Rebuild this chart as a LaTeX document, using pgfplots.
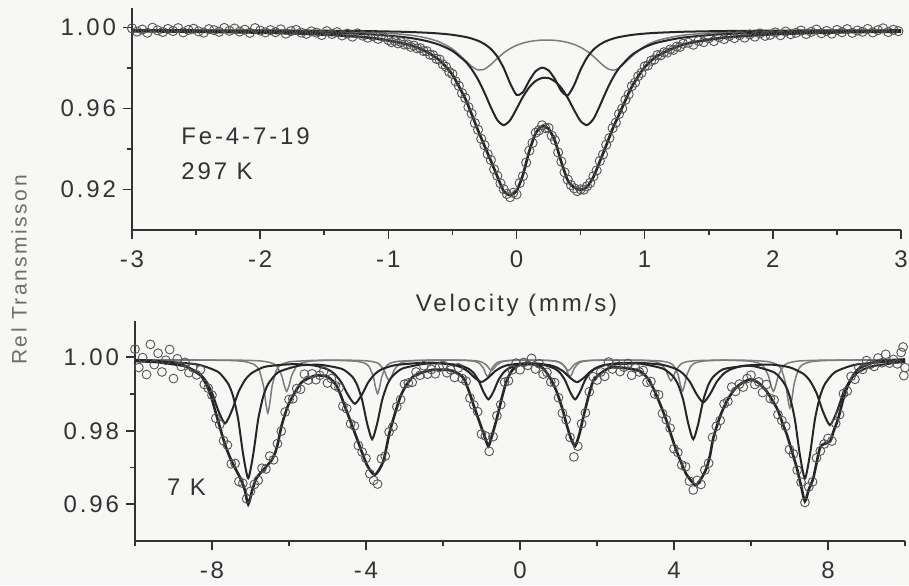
\documentclass[border=0pt]{standalone}
\usepackage{fontspec}
\setmainfont{Liberation Sans}[LetterSpace=12]
\usepackage{pgfplots}
\pgfplotsset{compat=1.18}
\definecolor{ink}{HTML}{333333}
\definecolor{fitdark}{HTML}{262626}
\definecolor{fitgray}{HTML}{7C7C7C}
\definecolor{circ}{HTML}{555555}
\definecolor{labgray}{HTML}{6E6E6E}
\definecolor{paper}{HTML}{F7F7F5}
\pgfplotsset{
  mystyle/.style={
    scale only axis,
    axis lines=left,
    axis line style={-, line width=0.8pt, draw=ink},
    tick align=outside,
    major tick length=4.5pt,
    minor tick length=2.5pt,
    every tick/.style={line width=0.8pt, draw=ink},
    every minor tick/.style={line width=0.8pt, draw=ink},
    tick label style={font=\fontsize{12}{14}\selectfont, text=ink},
    xticklabel style={yshift=-2.5pt},
    /pgf/number format/assume math mode=true,
    clip=false,
  },
  circs/.style={only marks, mark=o, mark size=2.3pt, mark options={line width=0.45pt, draw=circ}},
  sumfit/.style={no marks, smooth, tension=0.4, line width=1.3pt, draw=fitdark},
  darkfit/.style={no marks, smooth, tension=0.4, line width=1.0pt, draw=fitdark},
  grayfit/.style={no marks, smooth, tension=0.4, line width=0.75pt, draw=fitgray},
}
\begin{document}
\begin{tikzpicture}
\path[use as bounding box, fill=paper] (0pt,0pt) rectangle (454.5pt,292.5pt);
\node[rotate=90, text=labgray, font=\fontsize{10.5}{12}\selectfont] at (9.5pt,157.5pt) {Rel Transmisson};

% ---------------- top panel: 297 K ----------------
\begin{axis}[mystyle,
  at={(66pt,177.5pt)}, anchor=south west,
  width=384.5pt, height=110.85pt,
  xmin=-3, xmax=3, ymin=0.90, ymax=1.0095,
  xtick={-3,-2,-1,0,1,2,3},
  minor xtick={-2.5,-1.5,-0.5,0.5,1.5,2.5},
  ytick={0.92,0.96,1.00},
  minor ytick={0.94,0.98},
  yticklabel style={/pgf/number format/.cd, fixed, fixed zerofill, precision=2},
  xlabel={Velocity (mm/s)},
  xlabel style={at={(axis description cs:0.5,-0.34)}, anchor=center, font=\fontsize{12}{14}\selectfont, text=ink},
]
\addplot[circs] table {
x y
-3.00 0.9996
-2.96 0.9980
-2.92 0.9990
-2.88 0.9974
-2.84 0.9999
-2.80 0.9986
-2.76 0.9978
-2.72 0.9993
-2.68 0.9983
-2.64 0.9997
-2.60 0.9976
-2.56 0.9988
-2.52 0.9994
-2.48 0.9981
-2.44 0.9975
-2.40 0.9992
-2.36 0.9987
-2.32 0.9979
-2.28 0.9998
-2.24 0.9984
-2.20 0.9995
-2.16 0.9980
-2.12 0.9989
-2.08 0.9974
-2.04 0.9997
-2.00 0.9985
-1.96 0.9976
-1.92 0.9987
-1.88 0.9977
-1.84 0.9991
-1.80 0.9970
-1.76 0.9982
-1.72 0.9988
-1.68 0.9975
-1.64 0.9969
-1.60 0.9981
-1.56 0.9975
-1.52 0.9963
-1.48 0.9982
-1.44 0.9968
-1.40 0.9977
-1.36 0.9961
-1.32 0.9970
-1.28 0.9955
-1.24 0.9971
-1.20 0.9960
-1.16 0.9950
-1.12 0.9958
-1.08 0.9944
-1.04 0.9955
-1.000 0.9938
-0.975 0.9928
-0.950 0.9934
-0.925 0.9922
-0.900 0.9928
-0.875 0.9916
-0.850 0.9917
-0.825 0.9905
-0.800 0.9911
-0.775 0.9897
-0.750 0.9898
-0.725 0.9884
-0.700 0.9883
-0.675 0.9866
-0.650 0.9863
-0.625 0.9845
-0.600 0.9842
-0.575 0.9818
-0.550 0.9806
-0.525 0.9781
-0.500 0.9771
-0.475 0.9734
-0.450 0.9712
-0.425 0.9676
-0.400 0.9652
-0.375 0.9607
-0.350 0.9575
-0.325 0.9528
-0.300 0.9495
-0.275 0.9450
-0.250 0.9419
-0.225 0.9375
-0.200 0.9346
-0.175 0.9300
-0.150 0.9268
-0.125 0.9231
-0.100 0.9202
-0.075 0.9178
-0.050 0.9162
-0.025 0.9184
0.000 0.9176
0.025 0.9232
0.050 0.9266
0.075 0.9333
0.100 0.9392
0.125 0.9430
0.150 0.9481
0.175 0.9492
0.200 0.9517
0.225 0.9503
0.250 0.9504
0.275 0.9466
0.300 0.9443
0.325 0.9383
0.350 0.9338
0.375 0.9285
0.400 0.9249
0.425 0.9222
0.450 0.9206
0.475 0.9192
0.500 0.9201
0.525 0.9199
0.550 0.9216
0.575 0.9233
0.600 0.9265
0.625 0.9294
0.650 0.9341
0.675 0.9373
0.700 0.9421
0.725 0.9454
0.750 0.9503
0.775 0.9530
0.800 0.9573
0.825 0.9600
0.850 0.9643
0.875 0.9670
0.900 0.9711
0.925 0.9728
0.950 0.9760
0.975 0.9776
1.000 0.9808
1.025 0.9813
1.050 0.9836
1.075 0.9842
1.100 0.9864
1.125 0.9863
1.150 0.9878
1.175 0.9876
1.200 0.9892
1.225 0.9890
1.250 0.9906
1.275 0.9904
1.300 0.9920
1.34 0.9925
1.38 0.9915
1.42 0.9934
1.46 0.9928
1.50 0.9947
1.54 0.9933
1.58 0.9952
1.62 0.9943
1.66 0.9958
1.70 0.9948
1.74 0.9962
1.78 0.9950
1.82 0.9966
1.86 0.9955
1.90 0.9971
1.94 0.9959
1.98 0.9964
2.02 0.9976
2.06 0.9962
2.10 0.9980
2.14 0.9967
2.18 0.9974
2.22 0.9985
2.26 0.9968
2.30 0.9979
2.34 0.9990
2.38 0.9972
2.42 0.9983
2.46 0.9970
2.50 0.9988
2.54 0.9977
2.58 0.9992
2.62 0.9974
2.66 0.9985
2.70 0.9979
2.74 0.9993
2.78 0.9976
2.82 0.9987
2.86 0.9996
2.90 0.9978
2.94 0.9989
2.98 0.9982
};
% doublet C (light)
\addplot[grayfit] table {
x y
-3 0.99864
-2.5 0.99857
-2 0.99844
-1.6 0.99823
-1.3 0.99790
-1.1 0.99749
-0.9 0.99669
-0.8 0.99597
-0.7 0.99482
-0.6 0.99287
-0.5 0.98942
-0.4 0.98381
-0.35 0.98082
-0.3 0.97904
-0.25 0.97944
-0.2 0.98173
-0.15 0.98471
-0.1 0.98745
-0.05 0.98961
0 0.99120
0.05 0.99232
0.1 0.99307
0.15 0.99355
0.2 0.99379
0.25 0.99383
0.3 0.99366
0.35 0.99327
0.4 0.99263
0.45 0.99165
0.5 0.99024
0.55 0.98830
0.6 0.98575
0.65 0.98279
0.7 0.98010
0.75 0.97891
0.8 0.97997
0.9 0.98580
1.0 0.99074
1.1 0.99362
1.3 0.99623
1.6 0.99757
2 0.99817
2.5 0.99845
3 0.99858
};
% doublet B
\addplot[darkfit] table {
x y
-3 0.99870
-2.5 0.99866
-2 0.99859
-1.6 0.99849
-1.3 0.99834
-1.1 0.99818
-0.9 0.99792
-0.8 0.99772
-0.7 0.99744
-0.6 0.99704
-0.5 0.99641
-0.4 0.99537
-0.35 0.99457
-0.3 0.99346
-0.25 0.99184
-0.2 0.98942
-0.15 0.98570
-0.1 0.98002
-0.05 0.97253
0 0.96676
0.05 0.96804
0.1 0.97383
0.15 0.97848
0.2 0.98018
0.25 0.97884
0.3 0.97452
0.35 0.96863
0.4 0.96650
0.45 0.97162
0.5 0.97919
0.55 0.98513
0.6 0.98905
0.65 0.99160
0.7 0.99329
0.75 0.99446
0.8 0.99529
0.9 0.99636
1.0 0.99701
1.1 0.99742
1.3 0.99791
1.6 0.99826
2 0.99848
2.5 0.99861
3 0.99867
};
% doublet A
\addplot[darkfit] table {
x y
-3 0.99846
-2.5 0.99831
-2 0.99806
-1.6 0.99767
-1.3 0.99712
-1.1 0.99649
-0.9 0.99541
-0.8 0.99456
-0.7 0.99332
-0.6 0.99145
-0.5 0.98845
-0.4 0.98333
-0.35 0.97944
-0.3 0.97433
-0.25 0.96787
-0.2 0.96060
-0.15 0.95432
-0.1 0.95178
-0.05 0.95421
0 0.95980
0.05 0.96577
0.1 0.97054
0.15 0.97365
0.2 0.97512
0.25 0.97505
0.3 0.97341
0.35 0.97014
0.4 0.96522
0.45 0.95918
0.5 0.95378
0.55 0.95181
0.6 0.95482
0.65 0.96132
0.7 0.96857
0.75 0.97490
0.8 0.97989
0.9 0.98649
1.0 0.99028
1.1 0.99258
1.3 0.99506
1.6 0.99670
2 0.99760
2.5 0.99809
3 0.99833
};
% total fit
\addplot[sumfit] table {
x y
-3 0.9982
-2.5 0.9979
-2 0.9975
-1.6 0.9968
-1.3 0.9958
-1.1 0.9946
-0.9 0.9924
-0.8 0.9907
-0.7 0.9880
-0.6 0.9838
-0.5 0.9767
-0.4 0.9649
-0.35 0.9572
-0.3 0.9492
-0.25 0.9416
-0.2 0.9342
-0.15 0.9265
-0.1 0.9192
-0.05 0.9172
0 0.9192
0.05 0.9272
0.1 0.9390
0.15 0.9478
0.2 0.9513
0.25 0.9500
0.3 0.9440
0.35 0.9335
0.4 0.9245
0.45 0.9210
0.5 0.9198
0.55 0.9212
0.6 0.9262
0.65 0.9338
0.7 0.9418
0.75 0.9500
0.8 0.9570
0.9 0.9708
1.0 0.9804
1.1 0.9860
1.3 0.9916
1.6 0.9949
2 0.9967
2.5 0.9976
3 0.9980
};
\node[anchor=west, text=ink, font=\fontsize{12}{14}\selectfont] at (axis cs:-2.67,0.9464) {Fe-4-7-19};
\node[anchor=west, text=ink, font=\fontsize{12}{14}\selectfont] at (axis cs:-2.67,0.9291) {297 K};
\end{axis}

% ---------------- bottom panel: 7 K ----------------
\begin{axis}[mystyle,
  at={(67.5pt,22pt)}, anchor=south west,
  width=385pt, height=110.25pt,
  xmin=-10, xmax=10, ymin=0.95, ymax=1.01,
  xtick={-8,-4,0,4,8},
  minor xtick={-10,-6,-2,2,6,10},
  ytick={0.96,0.98,1.00},
  minor ytick={0.97,0.99},
  yticklabel style={/pgf/number format/.cd, fixed, fixed zerofill, precision=2},
]
\addplot[circs, mark size=2.2pt] table {
x y
-10.0 1.0022
-9.9 0.9972
-9.8 0.9999
-9.7 0.9953
-9.6 1.0035
-9.5 0.9980
-9.4 1.0011
-9.3 0.9960
-9.2 0.9992
-9.1 1.0021
-9.0 0.9942
-8.9 0.9996
-8.8 0.9975
-8.7 0.9986
-8.6 0.9958
-8.5 0.9972
-8.4 0.9952
-8.3 0.9966
-8.2 0.9926
-8.1 0.9916
-8.0 0.9897
-7.9 0.9834
-7.8 0.9817
-7.7 0.9773
-7.6 0.9761
-7.5 0.9710
-7.4 0.9711
-7.3 0.9662
-7.2 0.9657
-7.1 0.9615
-7.0 0.9635
-6.9 0.9654
-6.8 0.9665
-6.7 0.9698
-6.6 0.9696
-6.5 0.9731
-6.4 0.9721
-6.3 0.9765
-6.2 0.9799
-6.1 0.9851
-6.0 0.9885
-5.9 0.9887
-5.8 0.9915
-5.7 0.9913
-5.6 0.9954
-5.5 0.9938
-5.4 0.9955
-5.3 0.9939
-5.2 0.9951
-5.1 0.9962
-5.0 0.9930
-4.9 0.9942
-4.8 0.9923
-4.7 0.9917
-4.6 0.9867
-4.5 0.9860
-4.4 0.9819
-4.3 0.9813
-4.2 0.9760
-4.1 0.9742
-4.0 0.9725
-3.9 0.9683
-3.8 0.9665
-3.7 0.9655
-3.6 0.9724
-3.5 0.9731
-3.4 0.9797
-3.3 0.9811
-3.2 0.9865
-3.1 0.9885
-3.0 0.9927
-2.9 0.9930
-2.8 0.9932
-2.7 0.9960
-2.6 0.9951
-2.5 0.9977
-2.4 0.9954
-2.3 0.9967
-2.2 0.9955
-2.1 0.9972
-2.0 0.9978
-1.9 0.9958
-1.8 0.9966
-1.7 0.9945
-1.6 0.9971
-1.5 0.9942
-1.4 0.9935
-1.3 0.9889
-1.2 0.9870
-1.1 0.9852
-1.0 0.9791
-0.9 0.9786
-0.8 0.9744
-0.7 0.9784
-0.6 0.9841
-0.5 0.9871
-0.4 0.9932
-0.3 0.9936
-0.2 0.9966
-0.1 0.9984
0.0 0.9966
0.1 0.9986
0.2 0.9978
0.3 0.9997
0.4 0.9968
0.5 0.9982
0.6 0.9954
0.7 0.9959
0.8 0.9933
0.9 0.9931
1.0 0.9890
1.1 0.9848
1.2 0.9830
1.3 0.9782
1.4 0.9729
1.5 0.9758
1.6 0.9819
1.7 0.9849
1.8 0.9906
1.9 0.9947
2.0 0.9938
2.1 0.9960
2.2 0.9948
2.3 0.9987
2.4 0.9968
2.5 0.9981
2.6 0.9961
2.7 0.9973
2.8 0.9983
2.9 0.9951
3.0 0.9971
3.1 0.9960
3.2 0.9964
3.3 0.9932
3.4 0.9934
3.5 0.9900
3.6 0.9898
3.7 0.9847
3.8 0.9830
3.9 0.9807
4.0 0.9751
4.1 0.9741
4.2 0.9707
4.3 0.9702
4.4 0.9663
4.5 0.9639
4.6 0.9665
4.7 0.9654
4.8 0.9693
4.9 0.9712
5.0 0.9782
5.1 0.9812
5.2 0.9828
5.3 0.9873
5.4 0.9880
5.5 0.9919
5.6 0.9907
5.7 0.9927
5.8 0.9919
5.9 0.9942
6.0 0.9951
6.1 0.9926
6.2 0.9933
6.3 0.9904
6.4 0.9926
6.5 0.9888
6.6 0.9884
6.7 0.9844
6.8 0.9828
6.9 0.9812
7.0 0.9749
7.1 0.9737
7.2 0.9693
7.3 0.9660
7.4 0.9605
7.5 0.9647
7.6 0.9661
7.7 0.9726
7.8 0.9745
7.9 0.9764
8.0 0.9779
8.1 0.9772
8.2 0.9820
8.3 0.9844
8.4 0.9901
8.5 0.9908
8.6 0.9948
8.7 0.9940
8.8 0.9972
8.9 0.9967
9.0 0.9991
9.1 0.9981
9.2 0.9975
9.3 0.9998
9.4 0.9985
9.5 1.0008
9.6 0.9984
9.7 0.9994
9.8 0.9982
9.9 1.0013
10.0 0.9972
9.95 1.0028
9.97 0.9950
};
% S4 (light)
\addplot[grayfit] coordinates {
(-10,0.99930) (-7.36,0.99921) (-6.71,0.99897) (-6.45,0.99844) (-6.32,0.99758) (-6.19,0.99500) (-6.125,0.99242) (-6.06,0.99070) (-5.995,0.99242) (-5.93,0.99500) (-5.80,0.99758) (-5.67,0.99844) (-5.41,0.99897) (-4.70,0.99924) (-4.05,0.99908) (-3.79,0.99873) (-3.66,0.99816) (-3.53,0.99645) (-3.465,0.99474) (-3.40,0.99360) (-3.335,0.99474) (-3.27,0.99645) (-3.14,0.99816) (-3.01,0.99873) (-2.75,0.99908) (-2.10,0.99924) (-1.39,0.99919) (-1.13,0.99901) (-1.00,0.99872) (-0.87,0.99785) (-0.805,0.99698) (-0.74,0.99640) (-0.675,0.99698) (-0.61,0.99785) (-0.48,0.99872) (-0.35,0.99901) (-0.09,0.99919) (0.26,0.99925) (0.61,0.99919) (0.87,0.99901) (1.00,0.99872) (1.13,0.99785) (1.195,0.99698) (1.26,0.99640) (1.325,0.99698) (1.39,0.99785) (1.52,0.99872) (1.65,0.99901) (1.91,0.99919) (2.62,0.99924) (3.27,0.99908) (3.53,0.99873) (3.66,0.99816) (3.79,0.99645) (3.855,0.99474) (3.92,0.99360) (3.985,0.99474) (4.05,0.99645) (4.18,0.99816) (4.31,0.99873) (4.57,0.99908) (5.25,0.99922) (5.93,0.99897) (6.19,0.99844) (6.32,0.99758) (6.45,0.99500) (6.515,0.99242) (6.58,0.99070) (6.645,0.99242) (6.71,0.99500) (6.84,0.99758) (6.97,0.99844) (7.23,0.99897) (7.88,0.99921) (10,0.99930)
};
% S3 (light)
\addplot[grayfit] coordinates {
(-10,0.99928) (-7.65,0.99916) (-7.10,0.99874) (-6.88,0.99785) (-6.77,0.99640) (-6.66,0.99205) (-6.605,0.98770) (-6.55,0.98480) (-6.495,0.98770) (-6.44,0.99205) (-6.33,0.99640) (-6.22,0.99785) (-6.00,0.99874) (-5.45,0.99912) (-5.125,0.99920) (-4.80,0.99916) (-4.25,0.99892) (-4.03,0.99838) (-3.92,0.99746) (-3.81,0.99470) (-3.755,0.99194) (-3.70,0.99010) (-3.645,0.99194) (-3.59,0.99470) (-3.48,0.99746) (-3.37,0.99838) (-3.15,0.99892) (-2.60,0.99916) (-2.27,0.99920) (-1.94,0.99925) (-1.39,0.99912) (-1.17,0.99884) (-1.06,0.99838) (-0.95,0.99700) (-0.895,0.99562) (-0.84,0.99470) (-0.785,0.99562) (-0.73,0.99700) (-0.62,0.99838) (-0.51,0.99884) (-0.29,0.99912) (0.23,0.99925) (0.75,0.99912) (0.97,0.99884) (1.08,0.99838) (1.19,0.99700) (1.245,0.99562) (1.30,0.99470) (1.355,0.99562) (1.41,0.99700) (1.52,0.99838) (1.63,0.99884) (1.85,0.99912) (2.40,0.99925) (2.76,0.99920) (3.12,0.99922) (3.67,0.99897) (3.89,0.99845) (4.00,0.99760) (4.11,0.99505) (4.165,0.99250) (4.22,0.99080) (4.275,0.99250) (4.33,0.99505) (4.44,0.99760) (4.55,0.99845) (4.77,0.99897) (5.32,0.99922) (5.91,0.99917) (6.46,0.99880) (6.68,0.99799) (6.79,0.99668) (6.90,0.99275) (6.955,0.98882) (7.01,0.98620) (7.065,0.98882) (7.12,0.99275) (7.23,0.99668) (7.34,0.99799) (7.56,0.99880) (8.11,0.99917) (10,0.99930)
};
% S2 (dark)
\addplot[darkfit] coordinates {
(-10,0.99888) (-9.41,0.99859) (-8.71,0.99752) (-8.36,0.99579) (-8.185,0.99394) (-8.01,0.99062) (-7.835,0.98546) (-7.66,0.98201) (-7.485,0.98545) (-7.31,0.99060) (-7.135,0.99391) (-6.96,0.99575) (-6.61,0.99745) (-5.91,0.99812) (-5.34,0.99775) (-4.99,0.99667) (-4.815,0.99544) (-4.64,0.99316) (-4.465,0.98967) (-4.29,0.98734) (-4.115,0.98969) (-3.94,0.99321) (-3.765,0.99547) (-3.59,0.99674) (-3.24,0.99786) (-2.54,0.99849) (-2.05,0.99844) (-1.70,0.99785) (-1.525,0.99725) (-1.35,0.99614) (-1.175,0.99442) (-1.0,0.99327) (-0.825,0.99444) (-0.65,0.99618) (-0.475,0.99730) (-0.30,0.99792) (0.05,0.99831) (0.24,0.99834) (0.43,0.99832) (0.78,0.99782) (0.955,0.99722) (1.13,0.99611) (1.305,0.99438) (1.48,0.99322) (1.655,0.99439) (1.83,0.99612) (2.005,0.99723) (2.18,0.99784) (2.53,0.99837) (3.12,0.99847) (3.71,0.99792) (4.06,0.99678) (4.235,0.99555) (4.41,0.99337) (4.585,0.98998) (4.76,0.98770) (4.935,0.98995) (5.11,0.99332) (5.285,0.99547) (5.46,0.99665) (5.81,0.99769) (6.51,0.99800) (7.00,0.99727) (7.35,0.99556) (7.525,0.99368) (7.70,0.99032) (7.875,0.98506) (8.05,0.98155) (8.225,0.98508) (8.40,0.99037) (8.575,0.99376) (8.75,0.99567) (9.10,0.99744) (9.80,0.99854) (10,0.99867)
};
% S1 (dark)
\addplot[darkfit] coordinates {
(-10,0.99900) (-9.14,0.99876) (-8.36,0.99799) (-7.84,0.99600) (-7.58,0.99278) (-7.45,0.98932) (-7.32,0.98315) (-7.19,0.97352) (-7.06,0.96709) (-6.93,0.97351) (-6.80,0.98313) (-6.67,0.98929) (-6.54,0.99274) (-6.28,0.99593) (-5.76,0.99768) (-5.45,0.99794) (-5.14,0.99790) (-4.62,0.99681) (-4.36,0.99475) (-4.23,0.99248) (-4.10,0.98833) (-3.97,0.98195) (-3.84,0.97770) (-3.71,0.98197) (-3.58,0.98837) (-3.45,0.99247) (-3.32,0.99477) (-3.06,0.99691) (-2.54,0.99814) (-2.33,0.99829) (-2.12,0.99834) (-1.60,0.99789) (-1.34,0.99689) (-1.21,0.99578) (-1.08,0.99376) (-0.95,0.99063) (-0.82,0.98854) (-0.69,0.99064) (-0.56,0.99379) (-0.43,0.99581) (-0.30,0.99694) (-0.04,0.99782) (0.305,0.99808) (0.65,0.99783) (0.91,0.99686) (1.04,0.99576) (1.17,0.99375) (1.30,0.99062) (1.43,0.98852) (1.56,0.99062) (1.69,0.99377) (1.82,0.99579) (1.95,0.99691) (2.21,0.99788) (2.965,0.99831) (3.20,0.99814) (3.72,0.99688) (3.98,0.99475) (4.11,0.99245) (4.24,0.98835) (4.37,0.98195) (4.50,0.97768) (4.63,0.98193) (4.76,0.98831) (4.89,0.99240) (5.02,0.99467) (5.28,0.99675) (5.80,0.99759) (6.10,0.99751) (6.62,0.99577) (6.88,0.99261) (7.01,0.98917) (7.14,0.98302) (7.27,0.97340) (7.40,0.96700) (7.53,0.97343) (7.66,0.98307) (7.79,0.98925) (7.92,0.99272) (8.18,0.99595) (8.70,0.99795) (9.48,0.99873) (10,0.99891)
};
% total fit
\addplot[sumfit] coordinates {
(-10,0.9992) (-9.5,0.9990) (-9.0,0.9984) (-8.7,0.9976) (-8.5,0.9965) (-8.27,0.9948) (-8.1,0.9915) (-8.01,0.9889) (-7.84,0.9826) (-7.66,0.9762) (-7.49,0.9717) (-7.27,0.9672) (-7.15,0.9640) (-7.06,0.9600) (-6.95,0.9640) (-6.84,0.9672) (-6.62,0.9699) (-6.45,0.9720) (-6.36,0.9740) (-6.28,0.9770) (-6.19,0.9815) (-6.05,0.9862) (-5.93,0.9889) (-5.67,0.9932) (-5.32,0.9950) (-5.00,0.9947) (-4.75,0.9920) (-4.50,0.9853) (-4.24,0.9780) (-3.98,0.9708) (-3.77,0.9680) (-3.55,0.9717) (-3.38,0.9799) (-3.12,0.9889) (-2.95,0.9925) (-2.77,0.9948) (-2.50,0.9960) (-2.25,0.9966) (-1.95,0.9966) (-1.73,0.9962) (-1.47,0.9944) (-1.30,0.9900) (-1.21,0.9871) (-1.04,0.9820) (-0.92,0.9785) (-0.82,0.9758) (-0.72,0.9790) (-0.61,0.9830) (-0.47,0.9890) (-0.35,0.9935) (-0.20,0.9965) (0.00,0.9980) (0.30,0.9982) (0.60,0.9970) (0.80,0.9940) (0.95,0.9907) (1.10,0.9860) (1.21,0.9817) (1.32,0.9780) (1.43,0.9758) (1.54,0.9790) (1.64,0.9835) (1.77,0.9890) (1.90,0.9935) (2.08,0.9955) (2.34,0.9972) (2.60,0.9972) (2.90,0.9968) (3.12,0.9962) (3.30,0.9945) (3.46,0.9916) (3.65,0.9870) (3.81,0.9826) (3.95,0.9780) (4.07,0.9744) (4.20,0.9710) (4.33,0.9680) (4.56,0.9652) (4.72,0.9672) (4.85,0.9700) (4.94,0.9735) (5.02,0.9780) (5.20,0.9840) (5.37,0.9880) (5.55,0.9910) (5.71,0.9926) (5.97,0.9940) (6.20,0.9930) (6.41,0.9907) (6.60,0.9875) (6.71,0.9853) (6.82,0.9820) (6.93,0.9790) (7.06,0.9745) (7.19,0.9699) (7.30,0.9650) (7.40,0.9608) (7.50,0.9640) (7.62,0.9672) (7.79,0.9753) (7.92,0.9765) (8.05,0.9771) (8.15,0.9800) (8.27,0.9835) (8.38,0.9880) (8.49,0.9916) (8.65,0.9950) (8.83,0.9971) (9.26,0.9989) (9.60,0.9992) (10.0,0.9994)
};
\node[anchor=west, text=ink, font=\fontsize{12}{14}\selectfont] at (axis cs:-9.35,0.9646) {7 K};
\end{axis}
\end{tikzpicture}
\end{document}
